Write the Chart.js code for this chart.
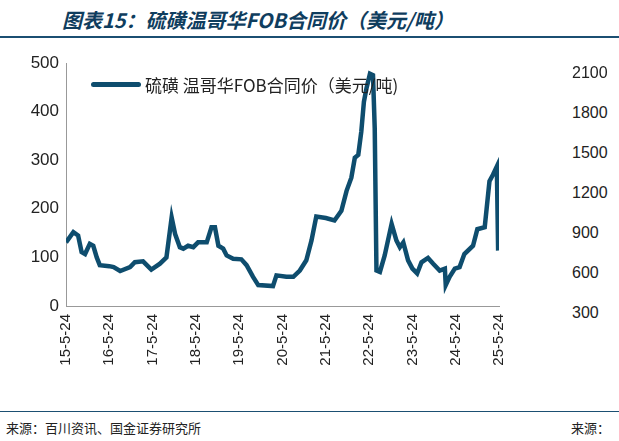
<!DOCTYPE html>
<html lang="zh">
<head>
<meta charset="UTF-8">
<script src="https://cdn.jsdelivr.net/npm/chart.js@4"></script>
<style>
  body { margin: 0; width: 619px; height: 441px; background: #fff; font-family: "Liberation Sans", Arial, sans-serif; position: relative; overflow: hidden; }
  #title { position: absolute; left: 62px; top: 5px; font: italic bold 20px "Noto Sans CJK SC"; color: #0f3d5e; }
  #rule { position: absolute; left: 0; top: 36px; width: 619px; border-top: 2px solid #1b4f72; }
  #foot { position: absolute; left: 0; top: 411px; width: 619px; border-top: 1px solid #1b4f72; }
  .src { position: absolute; top: 418px; font: 13px "Noto Sans CJK SC"; color: #222; }
  #box { position: absolute; left: 0; top: 40px; width: 520px; height: 370px; }
  #legend { position: absolute; left: 91px; top: 72px; font: 17px "Noto Sans CJK SC"; color: #222; display: flex; align-items: center; }
  #legend span { display: inline-block; width: 50px; height: 5px; background: #0e4d6e; border-radius: 3px; margin-right: 4px; }
  .rt { position: absolute; left: 572px; font: 16px "Liberation Sans"; color: #222; }
</style>
</head>
<body>
<div id="title">图表15：硫磺温哥华FOB合同价（美元/吨）</div>
<div id="rule"></div>
<div id="box"><canvas id="myChart"></canvas></div>
<div id="legend"><span></span>硫磺 温哥华FOB合同价（美元/吨)</div>
<div id="foot"></div>
<div class="src" style="left:6px">来源：百川资讯、国金证券研究所</div>
<div class="src" style="left:571px">来源：</div>
<div id="right"></div>

<script type='text/javascript'>

    // years since May 2015
    const years = [0, .17, .28, .36, .44, .55, .63, .71, .78, 1.0, 1.1, 1.25, 1.48, 1.59, 1.78, 1.97, 2.17, 2.32, 2.44, 2.52, 2.63, 2.71, 2.82, 2.94, 3.05, 3.25, 3.36, 3.44, 3.52, 3.63, 3.71, 3.86, 4.05, 4.17, 4.32, 4.44, 4.78, 4.86, 5.09, 5.25, 5.4, 5.55, 5.67, 5.78, 6.0, 6.2, 6.36, 6.48, 6.59, 6.67, 6.75, 6.82, 6.88, 6.94, 7.02, 7.09, 7.13, 7.17, 7.25, 7.36, 7.52, 7.63, 7.71, 7.79, 7.9, 8.0, 8.11, 8.21, 8.36, 8.48, 8.63, 8.75, 8.77, 8.86, 8.98, 9.09, 9.2, 9.4, 9.5, 9.67, 9.78, 9.86, 9.95, 9.98];
    const prices = [131, 152, 145, 111, 107, 128, 124, 100, 84, 82, 80, 72, 80, 90, 92, 75, 87, 100, 182, 148, 121, 118, 124, 121, 131, 131, 162, 162, 124, 118, 104, 97, 96, 84, 60, 43, 41, 63, 60, 60, 73, 94, 135, 184, 181, 176, 196, 237, 264, 305, 311, 359, 420, 448, 478, 475, 366, 73, 70, 104, 169, 135, 121, 131, 94, 77, 67, 90, 99, 87, 73, 77, 43, 60, 77, 80, 107, 124, 158, 162, 257, 270, 287, 114];
    const xTickLabels = ['15-5-24', '16-5-24', '17-5-24', '18-5-24', '19-5-24', '20-5-24', '21-5-24', '22-5-24', '23-5-24', '24-5-24', '25-5-24'];
    const rightLabels = ['2100', '1800', '1500', '1200', '900', '600', '300'];

    // cut-off axis of the neighbouring chart
    rightLabels.forEach((t, i) => {
        const d = document.createElement('div')
        d.className = 'rt'
        d.style.top = (64 + i * 40) + 'px'
        d.textContent = t
        document.body.appendChild(d)
    })

    const ctx = document.getElementById('myChart').getContext('2d');
    const chart = new Chart(ctx, {
        type: 'line',
        data: {
            datasets: [{
                data: years.map((x, i) => ({ x: x, y: prices[i] })),
                borderColor: '#0e4d6e',
                borderWidth: 4.5,
                pointRadius: 0,
                tension: 0
            }]
        },
        options: {
            responsive: true,
            maintainAspectRatio: false,
            animation: false,
            layout: { padding: { top: 23, right: 20 } },
            plugins: { legend: { display: false }, tooltip: { enabled: false } },
            scales: {
                x: {
                    type: 'linear', min: 0, max: 10,
                    afterBuildTicks: a => { a.ticks = xTickLabels.map((_, i) => ({ value: i })) },
                    afterFit: a => { a.height = 104 },
                    grid: { display: false, drawTicks: true, tickLength: 5, color: '#999' },
                    border: { color: '#999' },
                    ticks: {
                        maxRotation: 90, minRotation: 90, autoSkip: false,
                        color: '#222', font: { size: 15, family: 'Liberation Sans' },
                        callback: (v) => xTickLabels[v]
                    }
                },
                y: {
                    min: 0, max: 500,
                    afterFit: a => { a.width = 66 },
                    grid: { display: false, drawTicks: true, tickLength: 4 },
                    border: { color: '#999' },
                    ticks: { stepSize: 100, color: '#222', font: { size: 17, family: 'Liberation Sans' } }
                }
            }
        }
    });

</script>
</body>
</html>
